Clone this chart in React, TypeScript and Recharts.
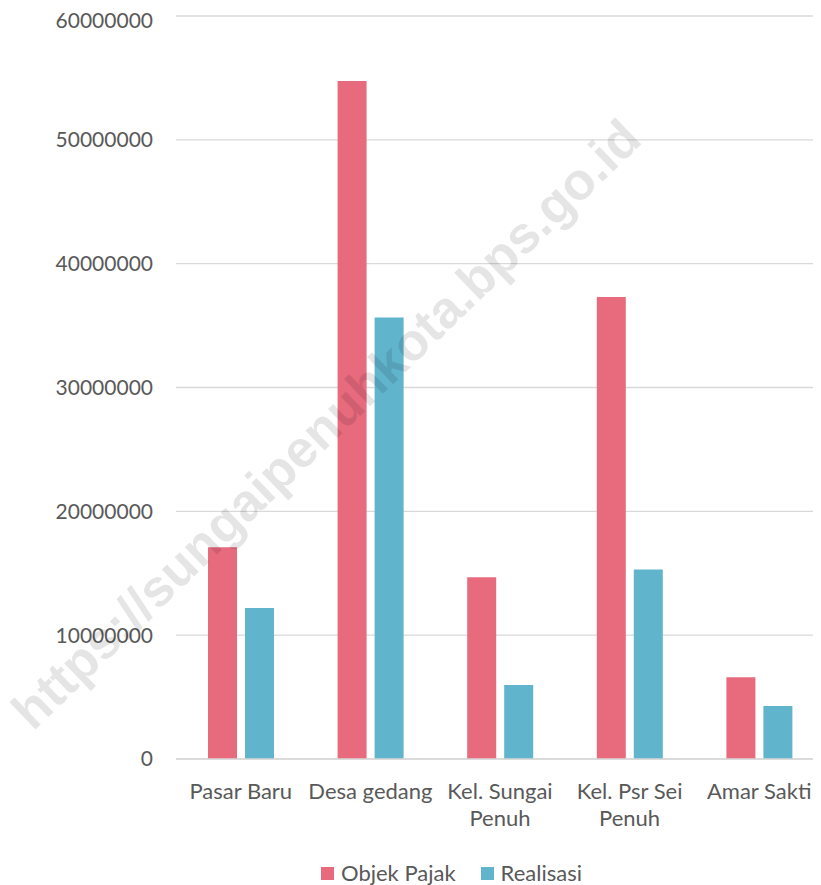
import React from "react";
import { BarChart, Bar, XAxis, YAxis, CartesianGrid, Legend } from "recharts";

const categories = ["Pasar Baru", "Desa gedang", "Kel. Sungai Penuh", "Kel. Psr Sei Penuh", "Amar Sakti"];
const categoryLines = [["Pasar Baru"], ["Desa gedang"], ["Kel. Sungai", "Penuh"], ["Kel. Psr Sei", "Penuh"], ["Amar Sakti"]];
const objekPajak = [17100000, 54750000, 14680000, 37300000, 6610000];
const realisasi = [12200000, 35650000, 5970000, 15300000, 4270000];
const yTicks = [0, 10000000, 20000000, 30000000, 40000000, 50000000, 60000000];
const seriesNames = ["Objek Pajak", "Realisasi"];
const seriesColors = ["#E76A7D", "#60B4CC"];
const watermark = "https://sungaipenuhkota.bps.go.id";

const data = categories.map((c, i) => ({
  name: c,
  objek: objekPajak[i],
  real: realisasi[i],
}));

const TEXT = "#595959";
const FONT = "Lato, 'Open Sans', sans-serif";

const XTick = (props: any) => {
  const { x, y, index } = props;
  const lines = categoryLines[index] || [props.payload.value];
  return (
    <text x={x} y={y} textAnchor="middle" fill={TEXT} fontSize={22} fontFamily={FONT}>
      {lines.map((l: string, i: number) => (
        <tspan key={i} x={x} dy={i === 0 ? 31.5 : 27.5}>
          {l}
        </tspan>
      ))}
    </text>
  );
};

const LegendContent = () => (
  <div style={{ display: "flex", alignItems: "center", height: 24, marginLeft: 313, fontFamily: FONT, fontSize: 22, color: TEXT }}>
    {seriesNames.map((n, i) => (
      <div key={n} style={{ display: "flex", alignItems: "center", marginRight: 25 }}>
        <div style={{ width: 13, height: 13, background: seriesColors[i], marginRight: 7 }} />
        <span style={{ lineHeight: "24px", whiteSpace: "nowrap" }}>{n}</span>
      </div>
    ))}
  </div>
);

export default function App() {
  return (
    <div style={{ position: "relative", width: 813, height: 877, overflow: "hidden", background: "#fff" }}>
      <BarChart
        width={816}
        height={877}
        data={data}
        margin={{ top: 8, right: 0, bottom: 0, left: 0 }}
        barSize={29}
        barGap={8}
      >
        <CartesianGrid vertical={false} stroke="#D9D9D9" strokeWidth={1.3} />
        <XAxis
          dataKey="name"
          height={102}
          tickLine={false}
          axisLine={{ stroke: "#D9D9D9", strokeWidth: 1.3 }}
          tick={<XTick />}
          interval={0}
        />
        <YAxis
          width={168}
          domain={[0, 60000000]}
          ticks={yTicks}
          axisLine={false}
          tickLine={false}
          tickMargin={17}
          tick={{ fill: TEXT, fontSize: 21, fontFamily: FONT }}
        />
        <Legend verticalAlign="bottom" height={24} content={<LegendContent />} wrapperStyle={{ left: 0, width: 816 }} />
        <Bar dataKey="objek" name={seriesNames[0]} fill={seriesColors[0]} isAnimationActive={false} />
        <Bar dataKey="real" name={seriesNames[1]} fill={seriesColors[1]} isAnimationActive={false} />
      </BarChart>
      <svg
        width={813}
        height={877}
        style={{ position: "absolute", left: 0, top: 0, pointerEvents: "none" }}
      >
        <text
          x={318}
          y={416}
          textAnchor="middle"
          dominantBaseline="central"
          fontFamily="'Liberation Sans', Arial, sans-serif"
          fontWeight="bold"
          fontSize={52}
          fill="rgba(0,0,0,0.1)"
          transform="rotate(-44 318 416)"
        >
          {watermark}
        </text>
      </svg>
    </div>
  );
}
